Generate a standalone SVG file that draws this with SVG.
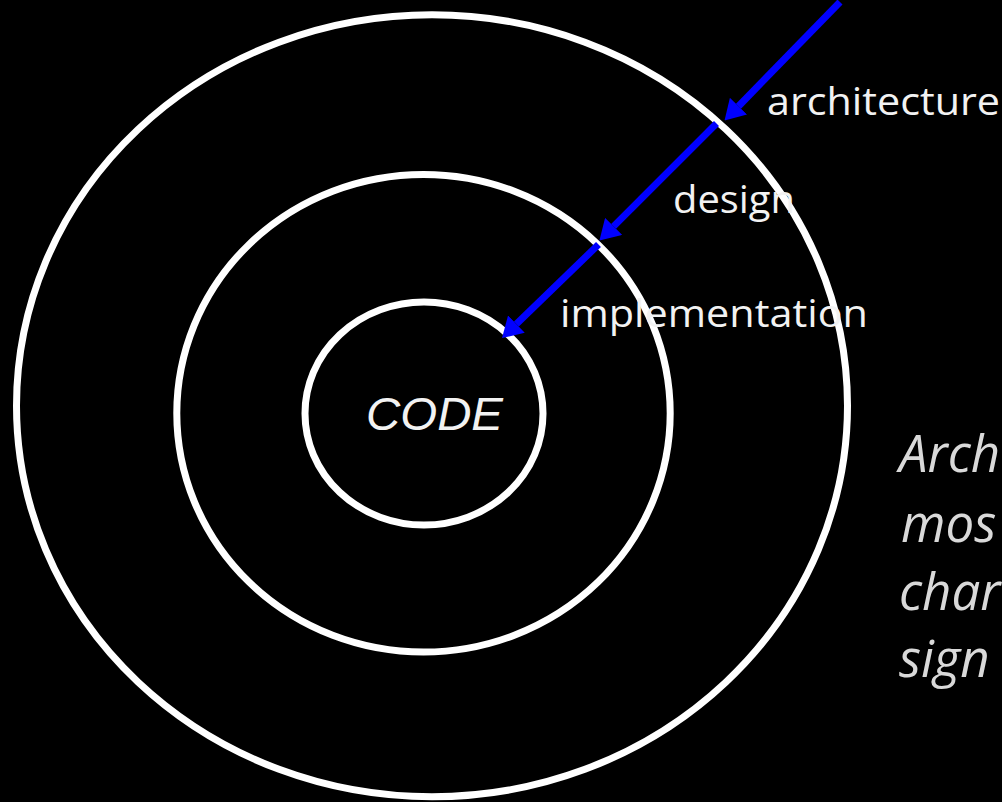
<svg xmlns="http://www.w3.org/2000/svg" width="1002" height="802" viewBox="0 0 1002 802">
  <style>
    .ring { fill: none; stroke: #FFFFFF; stroke-width: 7; }
    .arrow { stroke: #0000FF; stroke-width: 7; fill: none; marker-end: url(#head); }
    .label { font-family: "Open Sans", "Liberation Sans", sans-serif; font-size: 38px; fill: #F2F2F2; }
    .code { font-family: "Liberation Sans", Arial, sans-serif; font-style: italic; font-size: 46px; fill: #F2F2F2; }
    .note { font-family: "Open Sans", "Liberation Sans", sans-serif; font-style: italic; font-size: 51px; fill: #D9D9D9; }
  </style>
  <defs>
    <marker id="head" markerUnits="userSpaceOnUse" viewBox="0 0 20 24" markerWidth="20" markerHeight="24" refX="0" refY="12" orient="auto">
      <path d="M0,0 L20,12 L0,24 Z" fill="#0000FF"/>
    </marker>
  </defs>
  <rect x="0" y="0" width="1002" height="802" fill="#000000"/>

  <g id="ring-architecture">
    <ellipse class="ring" cx="432" cy="405.75" rx="415.5" ry="391"/>
  </g>
  <g id="ring-design">
    <ellipse class="ring" cx="423.5" cy="413.25" rx="246.7" ry="238.8"/>
  </g>
  <g id="ring-implementation">
    <ellipse class="ring" cx="424" cy="413.5" rx="119" ry="111.5"/>
  </g>
  <g id="node-code">
    <text class="code" x="366" y="430" textLength="137" lengthAdjust="spacingAndGlyphs">CODE</text>
  </g>

  <g id="connectors">
    <line class="arrow" x1="840" y1="2" x2="738.5" y2="106.2"/>
    <line class="arrow" x1="716.5" y1="123.5" x2="613.6" y2="226.4"/>
    <line class="arrow" x1="598.5" y1="244.5" x2="516.4" y2="324.1"/>
  </g>

  <g id="labels">
    <text class="label" x="767" y="115" textLength="233" lengthAdjust="spacingAndGlyphs">architecture</text>
    <text class="label" x="673" y="213" textLength="122" lengthAdjust="spacingAndGlyphs">design</text>
    <text class="label" x="560" y="327" textLength="308" lengthAdjust="spacingAndGlyphs">implementation</text>
  </g>

  <g id="note">
    <text class="note" x="899" y="472">Arch</text>
    <text class="note" x="901" y="541.5">mos</text>
    <text class="note" x="899" y="610">char</text>
    <text class="note" x="899" y="677">sign</text>
  </g>
</svg>
